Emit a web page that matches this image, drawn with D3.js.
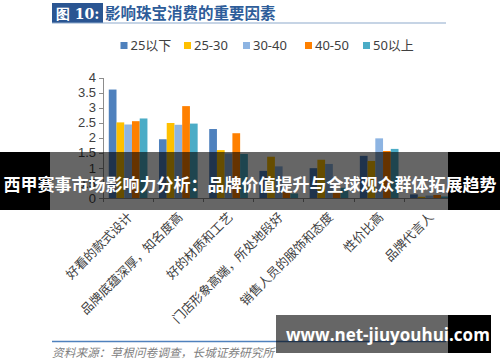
<!DOCTYPE html>
<meta charset="utf-8">
<style>
  body { margin: 0; background: #fff; }
  svg { display: block; font-family: "Noto Sans", "Noto Sans CJK SC", sans-serif; }
  .axis path, .axis line { fill: none; stroke: #8c8c8c; shape-rendering: crispEdges; }
  .axis text { font-size: 13px; fill: #404040; }
  .xaxis text { font-family: "Noto Sans CJK SC", sans-serif; font-size: 12.5px; }
</style>
<body>
<div id="chart"></div>
<script src="https://d3js.org/d3.v7.min.js"></script>
<script>
// categories and age groups
var categories = ["好看的款式设计", "品牌底蕴深厚，知名度高", "好的材质和工艺",
  "门店形象高端，所处地段好", "销售人员的服饰和态度", "性价比高", "品牌代言人"];
var groups = ["25以下", "25-30", "30-40", "40-50", "50以上"];
var colors = ["#4f81bd", "#ffc000", "#8db4e2", "#ff8000", "#4bacc6"];

// values per age group (one entry per category)
var v25below = [3.60, 1.95, 2.29, 0.90, 0.99, 1.40, 0.12];
var v25to30  = [2.51, 2.49, 1.59, 1.37, 1.27, 1.23, 0.04];
var v30to40  = [2.44, 2.43, 1.48, 1.05, 1.13, 1.98, 0.08];
var v40to50  = [2.55, 3.05, 2.15, 0.20, 0.23, 1.56, 0.10];
var v50above = [2.64, 2.47, 1.46, 0.15, 0.34, 1.63, 0.05];
var series = [v25below, v25to30, v30to40, v40to50, v50above];

var yTicks = [0, 0.5, 1, 1.5, 2, 2.5, 3, 3.5, 4];

var W = 500, H = 362;
var svg = d3.select("#chart").append("svg").attr("width", W).attr("height", H);

// header: "图 10:" box + title + rule
svg.append("rect").attr("x", 52).attr("y", 3).attr("width", 51).attr("height", 20).attr("fill", "#2a5592");
svg.append("text").attr("x", 56).attr("y", 19).attr("fill", "#fff")
  .style("font-family", "'DejaVu Serif', serif").style("font-weight", "bold").style("font-size", "14px")
  .text("图 10:");
svg.append("text").attr("x", 105).attr("y", 19).attr("fill", "#2e5d9a")
  .style("font-family", "'Noto Sans CJK SC', sans-serif").style("font-weight", "bold").style("font-size", "15.5px")
  .text("影响珠宝消费的重要因素");
svg.append("line").attr("x1", 52).attr("x2", 446).attr("y1", 23).attr("y2", 23)
  .attr("stroke", "#8ea9cc").attr("stroke-width", 1.2);

// legend
var legendX = [120.5, 184, 243, 305, 363];
var legend = svg.selectAll(".leg").data(groups).enter().append("g")
  .attr("transform", function(d, i) { return "translate(" + legendX[i] + ",45.5)"; });
legend.append("rect").attr("x", 0).attr("y", -3.5).attr("width", 7).attr("height", 7)
  .attr("fill", function(d, i) { return colors[i]; });
legend.append("text").attr("x", 10).attr("y", 4.5).attr("fill", "#404040")
  .style("font-size", "13px").text(function(d) { return d; });

// scales
var x0 = d3.scaleBand().domain(categories).range([103, 454.5]).paddingInner(0.23).paddingOuter(0.115);
var x1 = d3.scaleBand().domain(d3.range(groups.length)).range([0, x0.bandwidth()]);
var y = d3.scaleLinear().domain([0, 4]).range([198, 77.5]);

// bars
var catG = svg.selectAll(".cat").data(categories).enter().append("g")
  .attr("transform", function(d) { return "translate(" + x0(d) + ",0)"; });
catG.selectAll("rect").data(function(d, ci) {
    return series.map(function(s, gi) { return {g: gi, v: s[ci]}; });
  }).enter().append("rect")
  .attr("x", function(d) { return x1(d.g); })
  .attr("width", x1.bandwidth())
  .attr("y", function(d) { return y(d.v); })
  .attr("height", function(d) { return y(0) - y(d.v); })
  .attr("fill", function(d) { return colors[d.g]; });

// y axis
svg.append("g").attr("class", "axis").attr("transform", "translate(103,0)")
  .call(d3.axisLeft(y).tickValues(yTicks).tickSize(4).tickPadding(3)
    .tickFormat(function(d) { return d; }));

// x axis: ticks at category boundaries
var bounds = [103, 454.5];
var xb = d3.scaleLinear().domain([0, categories.length]).range(bounds);
var xg = svg.append("g").attr("class", "axis xaxis").attr("transform", "translate(0,198)");
xg.append("line").attr("x1", bounds[0]).attr("x2", bounds[1]).attr("y1", 0).attr("y2", 0);
xg.selectAll(".tk").data(d3.range(categories.length + 1)).enter().append("line")
  .attr("x1", function(d) { return xb(d); }).attr("x2", function(d) { return xb(d); })
  .attr("y1", 0).attr("y2", 4);
xg.selectAll(".lbl").data(categories).enter().append("text")
  .attr("transform", function(d, i) { return "translate(" + (xb(i + 0.5) + 5) + ",20) rotate(-45)"; })
  .attr("text-anchor", "end")
  .text(function(d) { return d; });

// source line
svg.append("line").attr("x1", 52).attr("x2", 446).attr("y1", 341.5).attr("y2", 341.5)
  .attr("stroke", "#4f81bd").attr("stroke-width", 1.5);
svg.append("text").attr("x", 52).attr("y", 357).attr("fill", "#7f7f7f")
  .style("font-family", "'Noto Sans CJK SC', sans-serif").style("font-size", "11.7px").style("font-style", "italic")
  .text("资料来源：草根问卷调查，长城证券研究所");

// overlay caption band
svg.append("rect").attr("x", 0).attr("y", 152).attr("width", 50).attr("height", 58).attr("fill", "#000");
svg.append("rect").attr("x", 448).attr("y", 152).attr("width", 52).attr("height", 58).attr("fill", "#000");
svg.append("rect").attr("x", 50).attr("y", 152).attr("width", 398).attr("height", 58).attr("fill", "rgba(0,0,0,0.6)");
svg.append("text").attr("x", 250).attr("y", 191).attr("text-anchor", "middle").attr("fill", "#fff")
  .style("font-family", "'Noto Sans CJK SC', sans-serif").style("font-weight", "bold").style("font-size", "17px")
  .text("西甲赛事市场影响力分析：品牌价值提升与全球观众群体拓展趋势");

// watermark box
svg.append("rect").attr("x", 276).attr("y", 315).attr("width", 172).attr("height", 38).attr("fill", "rgba(0,0,0,0.6)");
svg.append("rect").attr("x", 448).attr("y", 315).attr("width", 43).attr("height", 38).attr("fill", "#000");
svg.append("text").attr("x", 286).attr("y", 341).attr("fill", "#fff")
  .style("font-family", "'Open Sans', sans-serif").style("font-weight", "bold").style("font-size", "17px")
  .text("www.net-jiuyouhui.com");
</script>
</body>
